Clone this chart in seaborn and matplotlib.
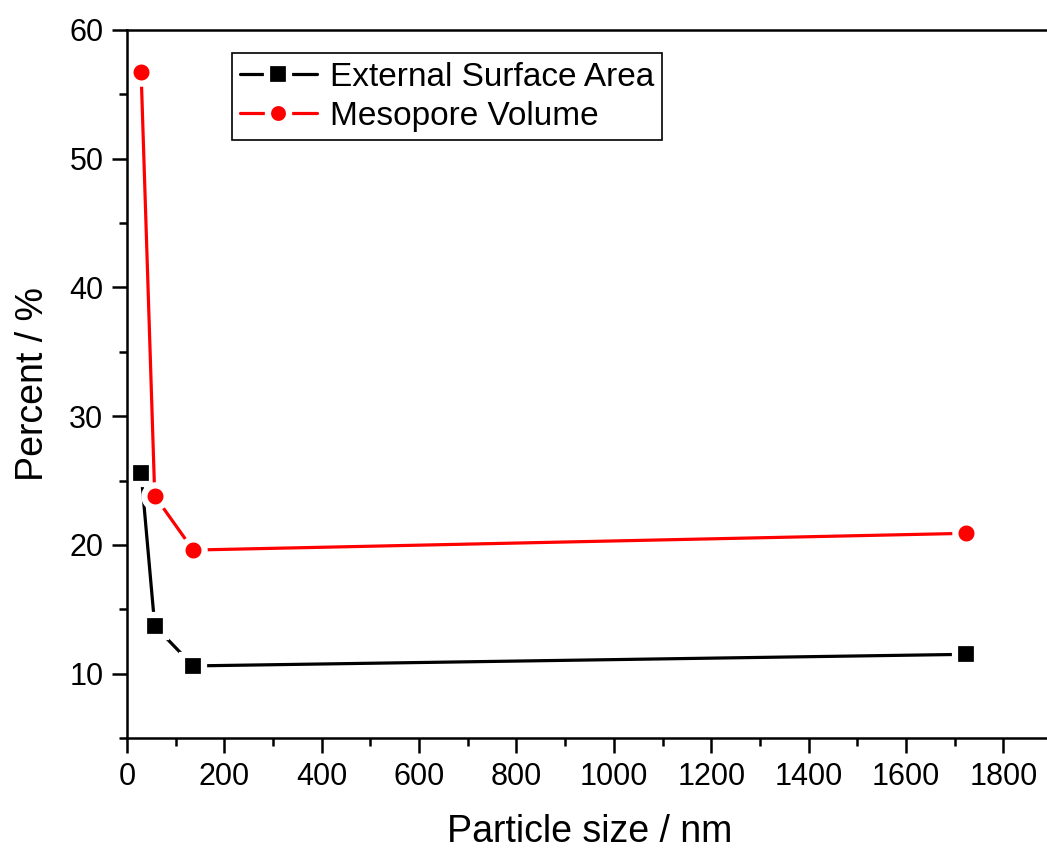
import matplotlib
matplotlib.use("Agg")
import matplotlib.pyplot as plt
from matplotlib.ticker import MultipleLocator
import seaborn as sns
import pandas as pd

# Particle sizes (nm) and the two measured percentages
particle_size = [29, 57, 136, 1723]
external_surface_area = [25.6, 13.7, 10.6, 11.5]
mesopore_volume = [56.7, 23.8, 19.6, 20.9]
series_names = ["External Surface Area", "Mesopore Volume"]

df = pd.concat([
    pd.DataFrame({"size": particle_size, "value": external_surface_area, "series": series_names[0]}),
    pd.DataFrame({"size": particle_size, "value": mesopore_volume, "series": series_names[1]}),
])

sns.set_theme(style="ticks")
plt.rcParams["font.family"] = ["Liberation Sans", "DejaVu Sans"]
plt.rcParams["text.color"] = "black"
plt.rcParams["axes.labelcolor"] = "black"

fig = plt.figure(figsize=(10.47, 8.52), dpi=100)
ax = fig.add_axes([0.1213, 0.1338, 0.8835, 0.831])

sns.lineplot(
    data=df, x="size", y="value", hue="series", style="series",
    hue_order=series_names, style_order=series_names,
    palette={series_names[0]: "black", series_names[1]: "#ff0000"},
    markers={series_names[0]: "s", series_names[1]: "o"},
    dashes=False, linewidth=2.3, markersize=16,
    markeredgecolor="white", markeredgewidth=4.5,
    ax=ax, legend=True, clip_on=False,
)

ax.set_xlim(0, 1900)
ax.set_ylim(5, 60)
ax.xaxis.set_major_locator(MultipleLocator(200))
ax.xaxis.set_minor_locator(MultipleLocator(100))
ax.yaxis.set_minor_locator(MultipleLocator(5))
ax.set_yticks([10, 20, 30, 40, 50, 60])

ax.tick_params(axis="both", which="major", direction="out", length=11, width=1.8,
               labelsize=22, color="black", labelcolor="black", pad=6)
ax.tick_params(axis="both", which="minor", direction="out", length=6, width=1.8, color="black")
for s in ax.spines.values():
    s.set_visible(True)
    s.set_linewidth(1.8)
    s.set_color("black")

ax.set_xlabel("Particle size / nm", fontsize=27, labelpad=16)
ax.set_ylabel("Percent / %", fontsize=27, labelpad=13)

leg = ax.legend(loc="upper left", bbox_to_anchor=(0.113, 0.967), borderaxespad=0,
                fontsize=24, frameon=True, fancybox=False, edgecolor="black", framealpha=1,
                handlelength=2.3, handletextpad=0.4, borderpad=0.25, labelspacing=0.25,
                markerscale=0.95, title=None)
leg.get_frame().set_linewidth(1.2)

fig.savefig("out.png", dpi=100)
